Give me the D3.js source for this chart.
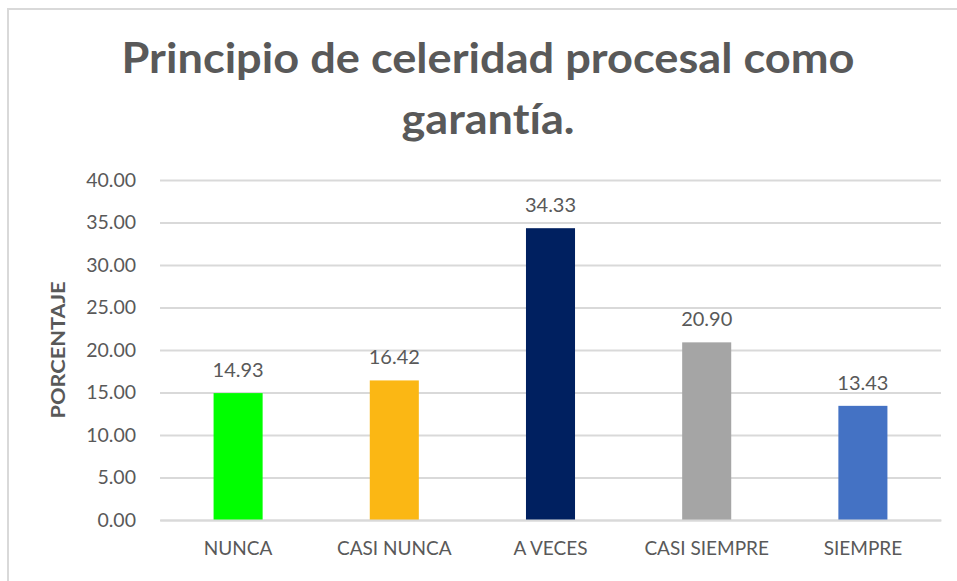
<!DOCTYPE html>
<html>
<head>
<meta charset="utf-8">
<script src="https://cdn.jsdelivr.net/npm/d3@7"></script>
<style>
  html, body { margin: 0; padding: 0; background: #fff; }
  #chart { width: 957px; height: 581px; }
  svg text { font-variant-ligatures: none; font-feature-settings: "liga" 0; }
</style>
</head>
<body>
<div id="chart"></div>
<script>
var categories = ['NUNCA', 'CASI NUNCA', 'A VECES', 'CASI SIEMPRE', 'SIEMPRE'];
var values = [14.93, 16.42, 34.33, 20.90, 13.43];
var barColors = ['#00ff00', '#fbb714', '#002060', '#a5a5a5', '#4472c4'];
var yTicks = [0, 5, 10, 15, 20, 25, 30, 35, 40];
var titleLines = ['Principio de celeridad procesal como', 'garantía.'];
var yTitle = 'PORCENTAJE';

(function() {
  var W = 957, H = 581;
  var FONT = 'Lato, "Open Sans", sans-serif';
  var TXT = '#595959';
  var m = { left: 160, right: 16, top: 180, bottom: 61 };
  var pw = W - m.left - m.right, ph = H - m.top - m.bottom;

  var svg = d3.select('#chart').append('svg').attr('width', W).attr('height', H);

  // chart frame (cut off on right and bottom in the original)
  svg.append('rect').attr('x', 8).attr('y', 9).attr('width', W + 20).attr('height', H + 20)
    .attr('fill', 'none').attr('stroke', '#d9d9d9').attr('stroke-width', 2);

  // title
  var tWidths = [733, 173];
  svg.append('g').selectAll('text').data(titleLines).join('text')
    .attr('x', 488).attr('y', function(d, i) { return 73 + i * 61; })
    .attr('text-anchor', 'middle').attr('fill', TXT)
    .attr('font-family', FONT).attr('font-weight', 700).attr('font-size', '42px')
    .attr('textLength', function(d, i) { return tWidths[i]; })
    .attr('lengthAdjust', 'spacingAndGlyphs')
    .text(function(d) { return d; });

  var g = svg.append('g').attr('transform', 'translate(' + m.left + ',' + m.top + ')');

  var x = d3.scaleBand().domain(categories).range([0, pw]).paddingInner(0.686).paddingOuter(0.343);
  var y = d3.scaleLinear().domain([0, 40]).range([ph, 0]);

  // gridlines + y labels
  var ya = g.append('g').call(d3.axisLeft(y).tickValues(yTicks).tickSize(-pw).tickPadding(24)
    .tickFormat(d3.format('.2f')));
  ya.select('.domain').remove();
  ya.selectAll('line').attr('stroke', '#d9d9d9').attr('stroke-width', 2);
  ya.selectAll('text').attr('fill', TXT).attr('font-family', FONT).attr('font-size', '19.5px');

  // bars
  g.selectAll('rect.bar').data(values).join('rect').attr('class', 'bar')
    .attr('x', function(d, i) { return x(categories[i]); })
    .attr('y', function(d) { return y(d); })
    .attr('width', x.bandwidth())
    .attr('height', function(d) { return ph - y(d); })
    .attr('fill', function(d, i) { return barColors[i]; });

  // value labels
  g.selectAll('text.val').data(values).join('text').attr('class', 'val')
    .attr('x', function(d, i) { return x(categories[i]) + x.bandwidth() / 2; })
    .attr('y', function(d) { return y(d) - 16; })
    .attr('text-anchor', 'middle').attr('fill', TXT)
    .attr('font-family', FONT).attr('font-size', '20px')
    .text(function(d) { return d.toFixed(2); });

  // category axis
  var xa = g.append('g').attr('transform', 'translate(0,' + ph + ')')
    .call(d3.axisBottom(x).tickSize(0).tickPadding(22));
  xa.select('.domain').attr('stroke', '#d9d9d9').attr('stroke-width', 2);
  xa.selectAll('text').attr('fill', TXT).attr('font-family', FONT).attr('font-size', '19px');

  // y axis title
  svg.append('text')
    .attr('transform', 'translate(65,' + (m.top + ph / 2) + ') rotate(-90)')
    .attr('text-anchor', 'middle').attr('fill', TXT)
    .attr('font-family', FONT).attr('font-weight', 700).attr('font-size', '18px')
    .attr('textLength', 137).attr('lengthAdjust', 'spacingAndGlyphs')
    .text(yTitle);
})();
</script>
</body>
</html>
